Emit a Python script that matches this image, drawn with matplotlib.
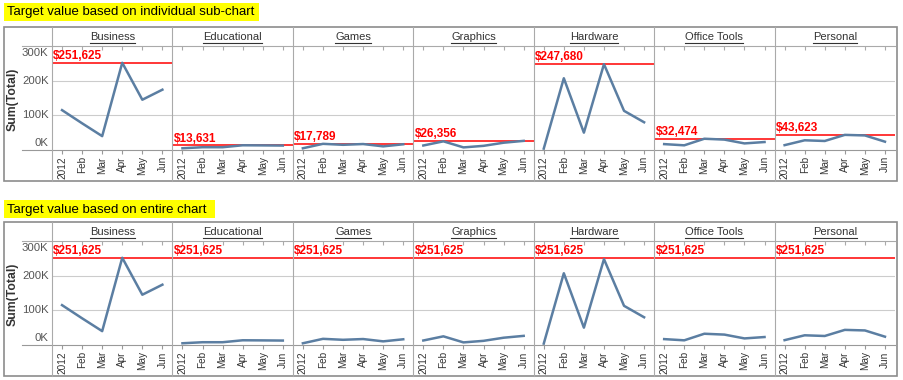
import matplotlib.pyplot as plt
from matplotlib.patches import Rectangle
from matplotlib.lines import Line2D

plt.rcParams['font.family'] = ['Liberation Sans', 'DejaVu Sans']

# data
categories = ['Business', 'Educational', 'Games', 'Graphics', 'Hardware', 'Office Tools', 'Personal']
months = ['2012', 'Feb', 'Mar', 'Apr', 'May', 'Jun']
business = [115000, 77000, 40000, 251625, 145000, 174000]
educational = [5000, 8000, 8000, 13631, 13300, 12800]
games = [5000, 17789, 15000, 17200, 10500, 16500]
graphics = [13000, 25000, 7500, 12000, 21000, 26356]
hardware = [4000, 207000, 50000, 247680, 113000, 80000]
office_tools = [17000, 13500, 32474, 30000, 19000, 23000]
personal = [14000, 28000, 26000, 43623, 42000, 24000]
series = [business, educational, games, graphics, hardware, office_tools, personal]
yticks = [0, 100000, 200000, 300000]
ytick_labels = ['0K', '100K', '200K', '300K']
titles = ['Target value based on individual sub-chart', 'Target value based on entire chart']

W, H = 904, 380
fig = plt.figure(figsize=(W / 100, H / 100), dpi=100)


def fx(x):
    return x / W


def fy(y):
    return 1 - y / H


def hline(x0, x1, y, color='#aaaaaa', lw=0.8):
    fig.add_artist(Line2D([fx(x0), fx(x1)], [fy(y), fy(y)], color=color, lw=lw))


def vline(x, y0, y1, color='#aaaaaa', lw=0.8):
    fig.add_artist(Line2D([fx(x), fx(x)], [fy(y0), fy(y1)], color=color, lw=lw))


line_color = '#5b7ea2'
x_left = 52
x_right = 895
pw = (x_right - x_left) / 7
overall_target = max(max(s) for s in series)
headers = []

# (title top, title width, box top) for each section
sections = [(3, 255, 27), (200, 211, 222)]

for sec, title in enumerate(titles):
    t_top, tw, box_top = sections[sec]
    off = box_top - 27
    # yellow title
    fig.add_artist(Rectangle((fx(4), fy(t_top + 18)), tw / W, 18 / H,
                             facecolor='#ffff00', edgecolor='none'))
    fig.text(fx(7), fy(t_top + 9.5), title, fontsize=9.5, va='center', ha='left', color='black')

    box_bot = box_top + 154
    plot_top = box_top + 19
    plot_bot = plot_top + 104

    # outer box
    fig.add_artist(Rectangle((fx(4), fy(box_bot)), (897 - 4) / W, (box_bot - box_top) / H,
                             facecolor='none', edgecolor='#8c8c8c', lw=1.2))
    hline(22, x_right, plot_top, '#aaaaaa')
    hline(22, x_right, plot_bot, '#999999')

    for i, (cat, vals) in enumerate(zip(categories, series)):
        left = x_left + i * pw
        ax = fig.add_axes([fx(left), fy(plot_bot), pw / W, (plot_bot - plot_top) / H])
        ax.set_xlim(-0.5, 5.5)
        ax.set_ylim(0, 300000)
        for sp in ax.spines.values():
            sp.set_visible(False)
        ax.set_yticks(yticks[1:3])
        ax.yaxis.grid(True, color='#cccccc', lw=0.8)
        ax.tick_params(axis='y', left=False, labelleft=False)
        ax.set_xticks(range(len(months)))
        ax.set_xticklabels(months, rotation=90, fontsize=7.2, color='#333333')
        ax.tick_params(axis='x', direction='out', length=3, color='#999999', pad=1.5)
        top = ax.secondary_xaxis('top')
        top.set_xticks(range(len(months)))
        top.tick_params(direction='in', length=3, color='#aaaaaa', labeltop=False)
        top.spines['top'].set_visible(False)

        ax.plot(range(len(months)), vals, color=line_color, lw=1.8, clip_on=False, zorder=3)
        target = max(vals) if sec == 0 else overall_target
        ax.axhline(target, color='#ff0000', lw=1.1, zorder=2)
        ax.annotate(f'${target:,}', xy=(0, target), xycoords=('axes fraction', 'data'),
                    xytext=(1, 0.5), textcoords='offset points', ha='left', va='bottom',
                    color='#ff0000', fontsize=8.5, fontweight='bold')

        if i == 0:
            for v, lab in zip(yticks, ytick_labels):
                va = 'center'
                dy = 0
                if v == yticks[0]:
                    va, dy = 'bottom', 1.5
                elif v == yticks[-1]:
                    va, dy = 'top', -1.5
                ax.annotate(lab, xy=(0, v), xycoords=('axes fraction', 'data'),
                            xytext=(-2.5, dy), textcoords='offset points', ha='right', va=va,
                            color='#555555', fontsize=8.2)

        t = fig.text(fx(left + pw / 2), fy(box_top + 10), cat, ha='center', va='center',
                     fontsize=8, color='#333333')
        headers.append(t)
        vline(left, box_top, box_bot)

    fig.text(fx(13), fy(plot_top + 53), 'Sum(Total)', rotation=90, ha='center', va='center',
             fontsize=8.8, fontweight='bold', color='#333333')

# underline the panel headers
fig.canvas.draw()
r = fig.canvas.get_renderer()
for t in headers:
    bb = t.get_window_extent(r)
    fig.add_artist(Line2D([bb.x0 / W, bb.x1 / W], [(bb.y0 - 1) / H, (bb.y0 - 1) / H],
                          color='#333333', lw=0.8))

fig.savefig('out.png', dpi=100)
